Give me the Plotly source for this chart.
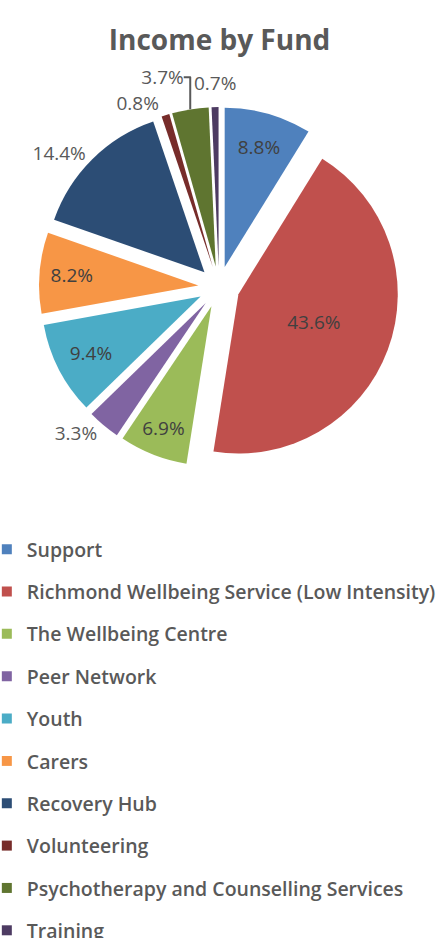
import math
import plotly.graph_objects as go

# Income share per fund (%)
funds = [
    "Support",
    "Richmond Wellbeing Service (Low Intensity)",
    "The Wellbeing Centre",
    "Peer Network",
    "Youth",
    "Carers",
    "Recovery Hub",
    "Volunteering",
    "Psychotherapy and Counselling Services",
    "Training",
]
shares = [8.8, 43.6, 6.9, 3.3, 9.4, 8.2, 14.4, 0.8, 3.7, 0.7]
colors = [
    "#4F81BD", "#C0504D", "#9BBB59", "#8064A2", "#4BACC6",
    "#F79646", "#2C4D75", "#772C2A", "#5F7530", "#4D3B62",
]
# small slices get their labels placed outside; the last one is labelled separately
label_pos = ["inside", "inside", "inside", "outside", "inside",
             "inside", "outside", "outside", "outside", "none"]

TEXT = "#595959"
FONT = "Open Sans"
W, H = 439, 938
PULL = 0.13
DOM_X = [0.0888, 0.909]
DOM_Y = [0.502, 0.886]

fig = go.Figure()

fig.add_trace(go.Pie(
    labels=funds,
    values=shares,
    sort=False,
    direction="clockwise",
    rotation=0,
    pull=[PULL] * len(funds),
    marker=dict(colors=colors, line=dict(width=0)),
    texttemplate="%{value:.1f}%",
    textposition=label_pos,
    insidetextorientation="horizontal",
    textfont=dict(family=FONT, size=19, color="#404040"),
    outsidetextfont=dict(family=FONT, size=19, color=TEXT),
    domain=dict(x=DOM_X, y=DOM_Y),
    showlegend=False,
    hoverinfo="label+percent",
))

# label for the thin last slice, placed just beyond its outer edge
total = sum(shares)
mid = (sum(shares[:-1]) + shares[-1] / 2) / total * 2 * math.pi
cx = W * (DOM_X[0] + DOM_X[1]) / 2
cy = H * (1 - (DOM_Y[0] + DOM_Y[1]) / 2)
r = min(W * (DOM_X[1] - DOM_X[0]), H * (DOM_Y[1] - DOM_Y[0])) / (2 + 2 * PULL)
dist = r * (1 + PULL) + 24
fig.add_annotation(
    x=(cx + dist * math.sin(mid)) / W,
    y=1 - (cy - dist * math.cos(mid)) / H,
    xref="paper", yref="paper",
    text=f"{shares[-1]:.1f}%",
    showarrow=False,
    xanchor="center", yanchor="middle",
    font=dict(family=FONT, size=19, color=TEXT),
)

# legend entries, one group each so the row spacing can be set
for name, col in zip(funds, colors):
    fig.add_trace(go.Scatter(
        x=[None], y=[None], mode="markers",
        marker=dict(symbol="square", size=10, color=col),
        name=name, legendgroup=name, showlegend=True, hoverinfo="skip",
    ))

fig.update_layout(
    width=W,
    height=H,
    margin=dict(l=0, r=0, t=0, b=0, autoexpand=False),
    paper_bgcolor="white",
    plot_bgcolor="white",
    title=dict(
        text="<b>Income by Fund</b>",
        x=0.5, xanchor="center",
        y=1 - 40 / H, yanchor="middle", yref="container",
        font=dict(family=FONT, size=28, color=TEXT),
    ),
    xaxis=dict(visible=False),
    yaxis=dict(visible=False),
    legend=dict(
        x=-0.03, xanchor="left",
        y=0.435, yanchor="top",
        orientation="v",
        tracegroupgap=14,
        font=dict(family=FONT, size=19.5, color=TEXT, weight=600),
        bgcolor="rgba(0,0,0,0)",
    ),
)

fig.write_html("out.html")
